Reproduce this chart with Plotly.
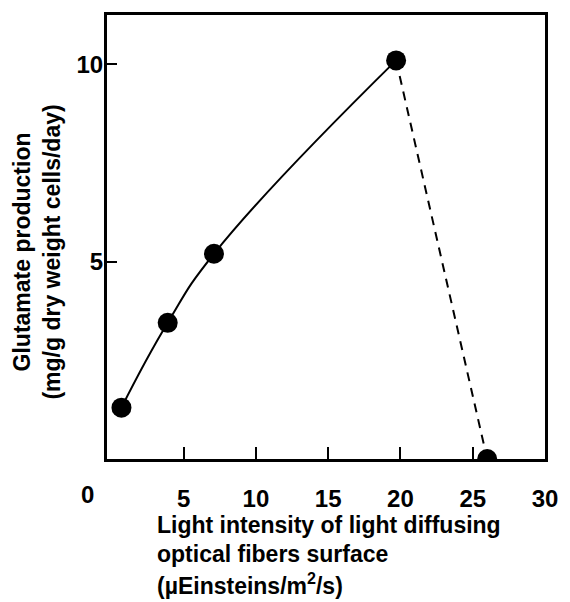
import plotly.graph_objects as go

# Data
light = [0.7, 3.9, 7.1, 19.7]
glutamate = [1.3, 3.45, 5.2, 10.1]
drop_light = [19.7, 26.0]
drop_glutamate = [10.1, 0.0]

x_ticks = [5, 10, 15, 20, 25, 30]
y_ticks = [5, 10]

x_title_lines = ["Light intensity of light diffusing",
                 "optical fibers surface",
                 "(µEinsteins/m<sup>2</sup>/s)"]
y_title = "Glutamate production<br>(mg/g dry weight cells/day)"

FONT = "Liberation Sans"
W, H = 570, 602
L, R, T, B = 107, 18, 14, 143
pw, ph = W - L - R, H - T - B


def px(xp):
    return (xp - L) / pw


def py(yp):
    return (H - B - yp) / ph


def bold(s):
    return "<b>" + s + "</b>"


fig = go.Figure()

fig.add_trace(go.Scatter(
    x=light, y=glutamate, mode="lines",
    line=dict(color="black", width=2, shape="spline", smoothing=1.3),
    showlegend=False, hoverinfo="skip"))

fig.add_trace(go.Scatter(
    x=drop_light, y=drop_glutamate, mode="lines",
    line=dict(color="black", width=2, dash="9px,7px"),
    showlegend=False, hoverinfo="skip"))

fig.add_trace(go.Scatter(
    x=light + [drop_light[-1]], y=glutamate + [drop_glutamate[-1]],
    mode="markers",
    marker=dict(color="black", size=20, line=dict(width=0)),
    showlegend=False, cliponaxis=True))

tick_font = dict(family=FONT, size=24, color="black")

fig.update_xaxes(
    range=[-0.3, 30], tickvals=x_ticks, ticktext=[bold(str(v)) for v in x_ticks],
    ticks="inside", ticklen=12, tickwidth=2, tickcolor="black",
    showline=True, linewidth=3, linecolor="black", mirror=True,
    showgrid=False, zeroline=False, ticklabelstandoff=16,
    tickfont=tick_font)

fig.update_yaxes(
    range=[0, 11.25], tickvals=y_ticks, ticktext=[bold(str(v)) for v in y_ticks],
    ticks="inside", ticklen=10, tickwidth=2, tickcolor="black",
    showline=True, linewidth=3, linecolor="black", mirror=True,
    showgrid=False, zeroline=False, ticklabelstandoff=-4,
    tickfont=tick_font)

# Origin label
fig.add_annotation(x=px(87), y=py(495), xref="paper", yref="paper",
                   text=bold("0"), showarrow=False, xanchor="center", yanchor="middle",
                   font=tick_font)

# X axis title, one annotation per line (tight line spacing as in the reference)
for i, line in enumerate(x_title_lines):
    fig.add_annotation(
        x=px(156), y=py(525 + 29.5 * i), xref="paper", yref="paper", showarrow=False,
        text=bold(line), align="left", xanchor="left", yanchor="middle",
        font=dict(family=FONT, size=23, color="black"))

# Y axis title
fig.add_annotation(
    x=px(36), y=py(252), xref="paper", yref="paper", showarrow=False,
    textangle=-90, text=bold(y_title),
    align="center", xanchor="center", yanchor="middle",
    font=dict(family=FONT, size=23, color="black"))

fig.update_layout(
    width=W, height=H,
    margin=dict(l=L, r=R, t=T, b=B),
    plot_bgcolor="white", paper_bgcolor="white",
    font=dict(family=FONT, color="black"))

fig.write_html("out.html")
